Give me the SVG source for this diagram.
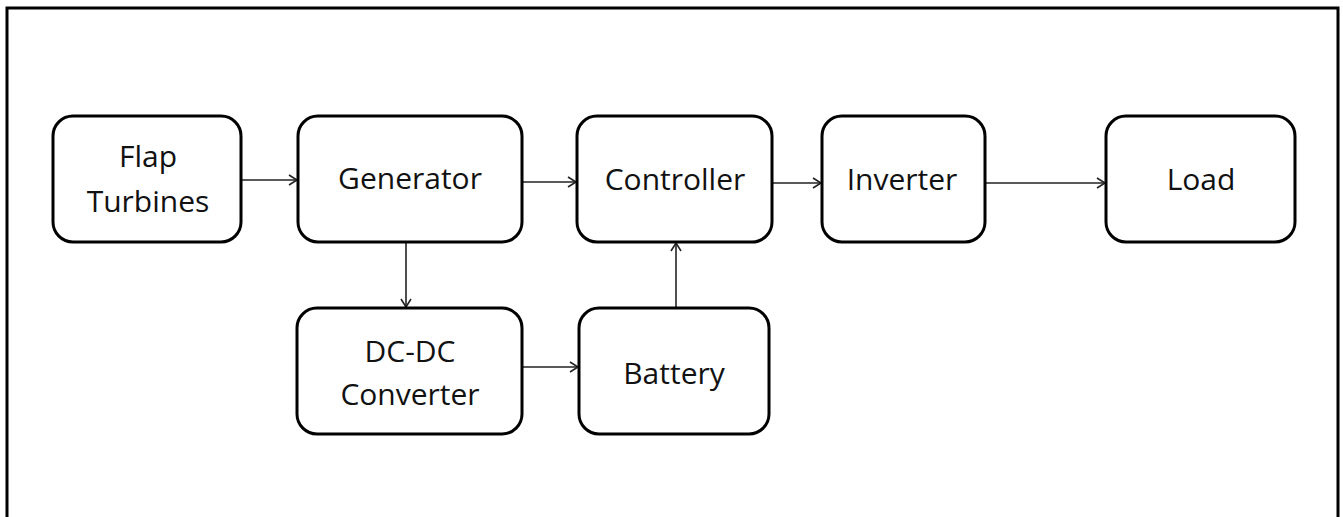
<svg xmlns="http://www.w3.org/2000/svg" width="1343" height="517" viewBox="0 0 1343 517">
<style>
.box{fill:#fff;stroke:#000;stroke-width:3}
.t{font-family:"Open Sans","Liberation Sans",sans-serif;font-size:30px;fill:#111;text-anchor:middle}
.c{stroke:#222;stroke-width:1.6;fill:none;marker-end:url(#ah)}
</style>
<defs>
<marker id="ah" markerWidth="12" markerHeight="12" refX="10" refY="6" orient="auto" markerUnits="userSpaceOnUse">
<path d="M2,1 L10,6 L2,11" fill="none" stroke="#222" stroke-width="1.6"/>
</marker>
</defs>
<rect x="0" y="0" width="1343" height="517" fill="#fff"/>
<path d="M7,520 V8 H1338 V520" fill="none" stroke="#000" stroke-width="3"/>
<g id="connectors">
<line class="c" x1="241" y1="180" x2="297" y2="180"/>
<line class="c" x1="522" y1="182" x2="576" y2="182"/>
<line class="c" x1="772" y1="183" x2="821" y2="183"/>
<line class="c" x1="985" y1="183" x2="1105" y2="183"/>
<line class="c" x1="406" y1="242" x2="406" y2="307"/>
<line class="c" x1="522" y1="367" x2="578" y2="367"/>
<line class="c" x1="676" y1="308" x2="676" y2="243"/>
</g>
<g id="flap"><rect class="box" x="53" y="116" width="188" height="126" rx="20"/><text class="t" x="148" y="167">Flap</text><text class="t" x="148" y="212">Turbines</text></g>
<g id="generator"><rect class="box" x="298" y="116" width="224" height="126" rx="20"/><text class="t" x="410" y="189">Generator</text></g>
<g id="controller"><rect class="box" x="577" y="116" width="195" height="126" rx="20"/><text class="t" x="675" y="190">Controller</text></g>
<g id="inverter"><rect class="box" x="822" y="116" width="163" height="126" rx="20"/><text class="t" x="902" y="190">Inverter</text></g>
<g id="load"><rect class="box" x="1106" y="116" width="189" height="126" rx="20"/><text class="t" x="1201" y="190">Load</text></g>
<g id="dcdc"><rect class="box" x="297" y="308" width="225" height="126" rx="20"/><text class="t" x="410" y="362">DC-DC</text><text class="t" x="410" y="405">Converter</text></g>
<g id="battery"><rect class="box" x="579" y="308" width="190" height="126" rx="20"/><text class="t" x="674" y="384">Battery</text></g>
</svg>
